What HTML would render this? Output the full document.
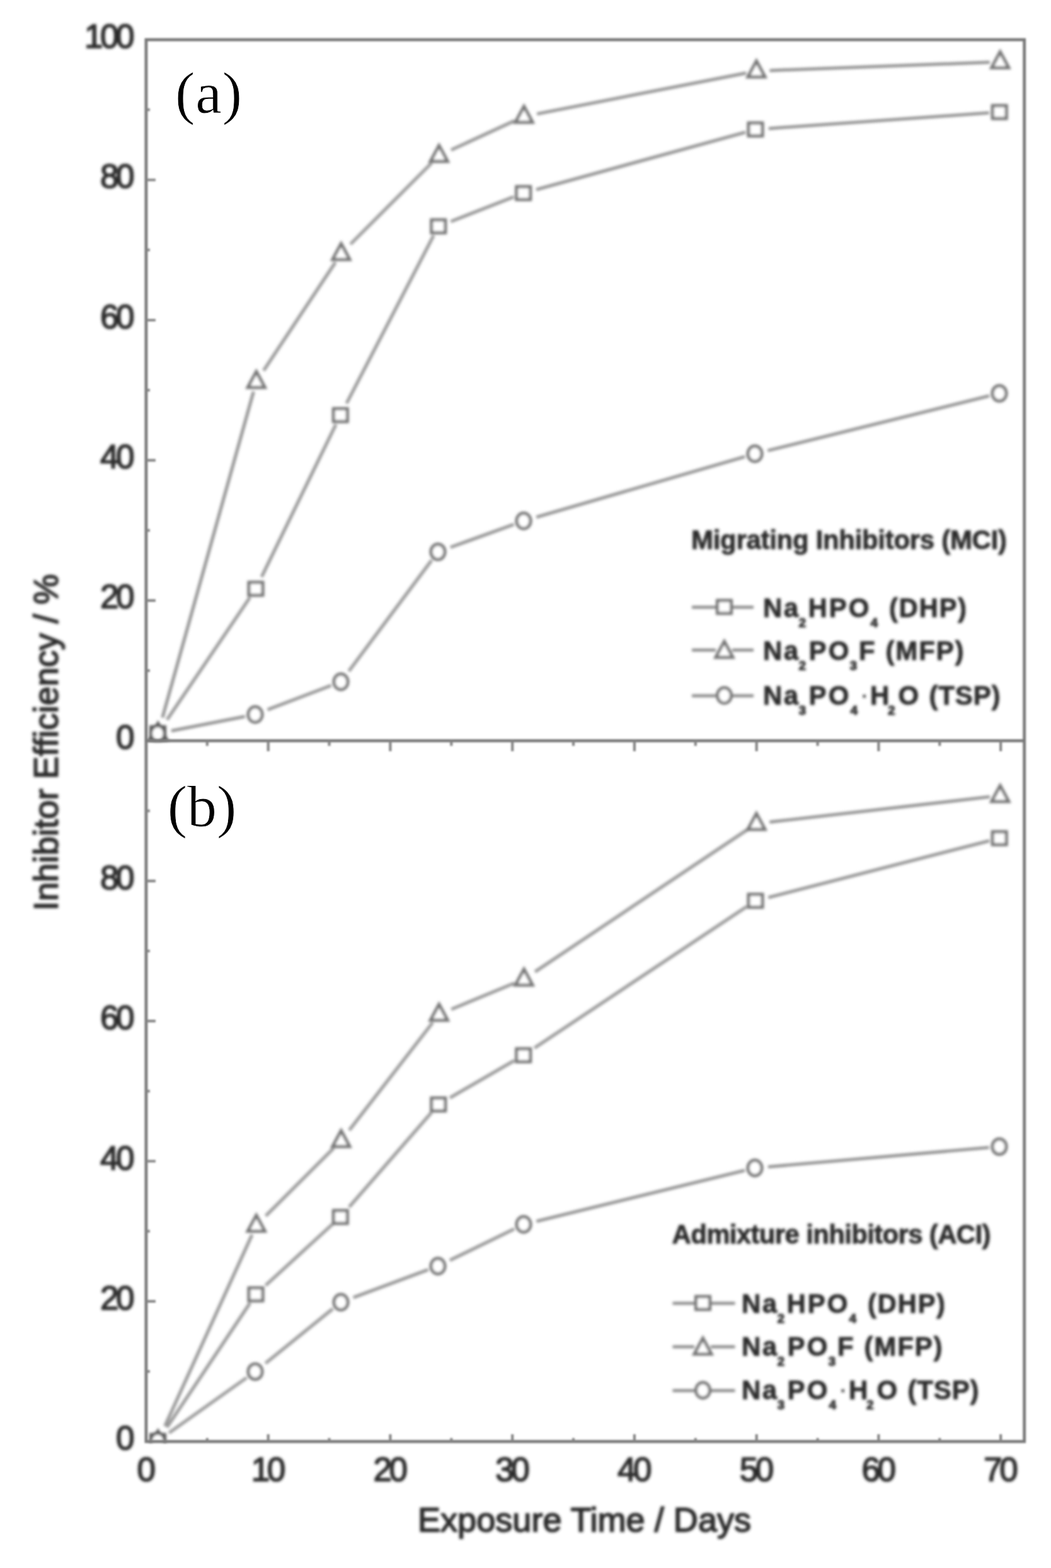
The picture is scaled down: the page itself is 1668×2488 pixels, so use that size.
<!DOCTYPE html>
<html lang="en"><head><meta charset="utf-8"><title>Inhibitor Efficiency vs Exposure Time</title>
<style>
html,body{margin:0;padding:0;background:#fff;overflow:hidden}
svg{display:block}
text{font-family:"Liberation Sans",sans-serif}
.tick{font-size:53px;letter-spacing:-4.5px;fill:#2b2b2b;stroke:#2b2b2b;stroke-width:1.7px;stroke-linejoin:round}
.ttl{font-size:54px;fill:#2b2b2b;stroke:#2b2b2b;stroke-width:1.8px;stroke-linejoin:round}
.leg{font-size:42px;font-weight:bold;fill:#2c2c2c;stroke:#2c2c2c;stroke-width:0.8px;stroke-linejoin:round}
.dot{font-size:30px;font-weight:bold;fill:#2c2c2c}
.sub{font-size:21px;font-weight:bold;fill:#2c2c2c;stroke:#2c2c2c;stroke-width:1px;stroke-linejoin:round}
.pan{font-family:"Liberation Serif",serif;font-size:94px;fill:#000;stroke:#fff;stroke-width:0.8px}
.ln{fill:none;stroke:#989898;stroke-width:5.2}
.mk{fill:#fff;stroke:#757575;stroke-width:5.0;stroke-linejoin:miter}
.mk .ln{fill:none;stroke:#989898;stroke-width:5.2}
.fr{fill:none;stroke:#787878;stroke-width:4.8}
</style></head>
<body>
<svg width="1668" height="2488" viewBox="0 0 1668 2488">
<defs>
<filter id="soft" x="-2%" y="-2%" width="104%" height="104%"><feGaussianBlur stdDeviation="1.9"/></filter>
<filter id="soft3" x="-2%" y="-2%" width="104%" height="104%"><feGaussianBlur stdDeviation="1.5"/></filter>
<filter id="soft2" x="-5%" y="-5%" width="110%" height="110%"><feGaussianBlur stdDeviation="0.6"/></filter>
<clipPath id="cpa"><rect x="231.9" y="63.0" width="1393.8" height="1113.9"/></clipPath>
<clipPath id="cpb"><rect x="231.9" y="1175.4" width="1393.8" height="1113.4"/></clipPath>
</defs>
<rect x="0" y="0" width="1668" height="2488" fill="#fff"/>
<g filter="url(#soft)">
<g clip-path="url(#cpa)">
<g class="mk"><path class="ln" style="stroke:#9a9a9a;stroke-width:5.2" d="M265.1 1142.0L396.7 947.9"/>
<path class="ln" style="stroke:#979797;stroke-width:5.1" d="M415.2 915.3L533.1 673.5"/>
<path class="ln" style="stroke:#989898;stroke-width:5.1" d="M550.0 640.1L688.2 373.7"/>
<path class="ln" style="stroke:#959595;stroke-width:5.0" d="M715.4 351.5L815.3 312.4"/>
<path class="ln" style="stroke:#919191;stroke-width:4.9" d="M851.0 300.8L1183.1 209.8"/>
<path class="ln" style="stroke:#898989;stroke-width:4.5" d="M1219.9 203.9L1569.7 179.0"/>
<rect x="239.5" y="1153.3" width="22.0" height="20.4" style="stroke:#5c5c5c"/>
<rect x="395.0" y="924.0" width="22.0" height="20.4"/>
<rect x="529.3" y="648.5" width="22.0" height="20.4"/>
<rect x="684.8" y="348.9" width="22.0" height="20.4"/>
<rect x="819.7" y="296.2" width="22.0" height="20.4"/>
<rect x="1188.0" y="195.2" width="22.0" height="20.4"/>
<rect x="1575.2" y="167.6" width="22.0" height="20.4"/></g>
<g class="mk"><path class="ln" style="stroke:#919191;stroke-width:4.9" d="M257.8 1138.7L402.4 621.4"/>
<path class="ln" style="stroke:#9a9a9a;stroke-width:5.2" d="M418.4 588.0L532.3 416.2"/>
<path class="ln" style="stroke:#9c9c9c;stroke-width:5.3" d="M556.2 387.5L685.1 258.5"/>
<path class="ln" style="stroke:#979797;stroke-width:5.1" d="M715.9 238.0L816.6 191.6"/>
<path class="ln" style="stroke:#8e8e8e;stroke-width:4.7" d="M852.2 180.7L1184.3 115.9"/>
<path class="ln" style="stroke:#888888;stroke-width:4.5" d="M1221.5 111.9L1570.8 98.8"/>
<path d="M250.8 1148.0L264.3 1173.0L237.3 1173.0Z" style="stroke:#5c5c5c"/>
<path d="M406.8 589.8L420.3 614.8L393.3 614.8Z"/>
<path d="M541.4 386.7L554.9 411.7L527.9 411.7Z"/>
<path d="M696.8 231.1L710.3 256.1L683.3 256.1Z"/>
<path d="M831.6 169.0L845.1 194.0L818.1 194.0Z"/>
<path d="M1200.5 97.0L1214.0 122.0L1187.0 122.0Z"/>
<path d="M1587.3 82.5L1600.8 107.5L1573.8 107.5Z"/></g>
<g class="mk"><path class="ln" style="stroke:#8e8e8e;stroke-width:4.7" d="M271.9 1159.6L388.8 1136.9"/>
<path class="ln" style="stroke:#959595;stroke-width:5.0" d="M424.6 1126.2L525.6 1087.7"/>
<path class="ln" style="stroke:#9b9b9b;stroke-width:5.3" d="M553.6 1065.0L685.1 888.8"/>
<path class="ln" style="stroke:#949494;stroke-width:5.0" d="M714.8 868.5L815.5 832.1"/>
<path class="ln" style="stroke:#929292;stroke-width:4.9" d="M851.2 820.6L1182.2 724.6"/>
<path class="ln" style="stroke:#909090;stroke-width:4.8" d="M1218.4 715.0L1570.0 628.1"/>
<ellipse cx="250.3" cy="1163.8" rx="11" ry="12.2" style="stroke:#5c5c5c"/>
<ellipse cx="405.0" cy="1133.7" rx="11" ry="12.2"/>
<ellipse cx="541.0" cy="1081.8" rx="11" ry="12.2"/>
<ellipse cx="695.0" cy="875.6" rx="11" ry="12.2"/>
<ellipse cx="831.0" cy="826.5" rx="11" ry="12.2"/>
<ellipse cx="1198.0" cy="720.0" rx="11" ry="12.2"/>
<ellipse cx="1586.0" cy="624.1" rx="11" ry="12.2"/></g>
</g>
<g clip-path="url(#cpb)">
<g class="mk"><path class="ln" style="stroke:#9a9a9a;stroke-width:5.2" d="M264.9 2264.9L396.8 2067.5"/>
<path class="ln" style="stroke:#9c9c9c;stroke-width:5.3" d="M421.5 2039.6L528.1 1942.1"/>
<path class="ln" style="stroke:#9c9c9c;stroke-width:5.3" d="M554.1 1915.2L685.0 1764.9"/>
<path class="ln" style="stroke:#999999;stroke-width:5.2" d="M714.0 1742.0L816.4 1682.7"/>
<path class="ln" style="stroke:#9a9a9a;stroke-width:5.2" d="M848.2 1662.8L1185.3 1438.4"/>
<path class="ln" style="stroke:#919191;stroke-width:4.8" d="M1219.3 1424.1L1570.2 1334.1"/>
<rect x="239.5" y="2276.3" width="22.0" height="20.4" style="stroke:#5c5c5c"/>
<rect x="395.0" y="2043.6" width="22.0" height="20.4"/>
<rect x="529.3" y="1920.8" width="22.0" height="20.4"/>
<rect x="684.8" y="1742.3" width="22.0" height="20.4"/>
<rect x="819.7" y="1664.2" width="22.0" height="20.4"/>
<rect x="1188.0" y="1419.1" width="22.0" height="20.4"/>
<rect x="1575.2" y="1319.8" width="22.0" height="20.4"/></g>
<g class="mk"><path class="ln" style="stroke:#979797;stroke-width:5.1" d="M261.6 2263.0L400.0 1959.2"/>
<path class="ln" style="stroke:#9c9c9c;stroke-width:5.3" d="M421.7 1929.4L529.7 1821.6"/>
<path class="ln" style="stroke:#9b9b9b;stroke-width:5.3" d="M554.3 1793.4L686.7 1622.5"/>
<path class="ln" style="stroke:#969696;stroke-width:5.0" d="M716.2 1601.5L816.4 1560.0"/>
<path class="ln" style="stroke:#9a9a9a;stroke-width:5.2" d="M849.1 1542.0L1186.8 1316.0"/>
<path class="ln" style="stroke:#8b8b8b;stroke-width:4.6" d="M1221.4 1304.4L1570.9 1264.3"/>
<path d="M250.8 2271.0L264.3 2296.0L237.3 2296.0Z" style="stroke:#5c5c5c"/>
<path d="M406.8 1928.5L420.3 1953.5L393.3 1953.5Z"/>
<path d="M541.4 1794.3L554.9 1819.3L527.9 1819.3Z"/>
<path d="M696.8 1593.8L710.3 1618.8L683.3 1618.8Z"/>
<path d="M831.6 1538.0L845.1 1563.0L818.1 1563.0Z"/>
<path d="M1200.5 1291.1L1214.0 1316.1L1187.0 1316.1Z"/>
<path d="M1587.3 1246.7L1600.8 1271.7L1573.8 1271.7Z"/></g>
<g class="mk"><path class="ln" style="stroke:#9b9b9b;stroke-width:5.2" d="M268.2 2273.6L391.5 2186.0"/>
<path class="ln" style="stroke:#9c9c9c;stroke-width:5.3" d="M421.3 2163.2L528.2 2076.6"/>
<path class="ln" style="stroke:#949494;stroke-width:5.0" d="M560.7 2058.9L679.5 2014.7"/>
<path class="ln" style="stroke:#979797;stroke-width:5.1" d="M713.9 1999.8L816.2 1950.0"/>
<path class="ln" style="stroke:#909090;stroke-width:4.8" d="M851.4 1937.8L1182.0 1857.2"/>
<path class="ln" style="stroke:#8a8a8a;stroke-width:4.6" d="M1218.9 1851.5L1569.6 1820.8"/>
<ellipse cx="250.3" cy="2286.3" rx="11" ry="12.2" style="stroke:#5c5c5c"/>
<ellipse cx="405.0" cy="2176.4" rx="11" ry="12.2"/>
<ellipse cx="541.0" cy="2066.2" rx="11" ry="12.2"/>
<ellipse cx="695.0" cy="2009.0" rx="11" ry="12.2"/>
<ellipse cx="831.0" cy="1942.8" rx="11" ry="12.2"/>
<ellipse cx="1198.0" cy="1853.3" rx="11" ry="12.2"/>
<ellipse cx="1586.0" cy="1819.4" rx="11" ry="12.2"/></g>
</g>
</g><g filter="url(#soft3)"><g class="fr">
<rect x="231.9" y="63.0" width="1393.8" height="2224.3"/>
<path d="M231.9 1175.4H1625.7"/>
</g>
<path class="fr" style="stroke-width:4.2;stroke:#858585" d="M231.9 1064.2h6M231.9 952.9h15M231.9 841.7h6M231.9 730.4h15M231.9 619.2h6M231.9 508.0h15M231.9 396.7h6M231.9 285.5h15M231.9 174.2h6M231.9 2176.1h6M231.9 2064.9h15M231.9 1953.7h6M231.9 1842.5h15M231.9 1731.4h6M231.9 1620.2h15M231.9 1509.0h6M231.9 1397.8h15M231.9 1286.6h6M328.8 1175.4v8M328.8 2287.3v-5.5M425.7 1175.4v16.5M425.7 2287.3v-11.5M522.5 1175.4v8M522.5 2287.3v-5.5M619.4 1175.4v16.5M619.4 2287.3v-11.5M716.3 1175.4v8M716.3 2287.3v-5.5M813.2 1175.4v16.5M813.2 2287.3v-11.5M910.0 1175.4v8M910.0 2287.3v-5.5M1006.9 1175.4v16.5M1006.9 2287.3v-11.5M1103.8 1175.4v8M1103.8 2287.3v-5.5M1200.7 1175.4v16.5M1200.7 2287.3v-11.5M1297.6 1175.4v8M1297.6 2287.3v-5.5M1394.4 1175.4v16.5M1394.4 2287.3v-11.5M1491.3 1175.4v8M1491.3 2287.3v-5.5M1588.2 1175.4v16.5M1588.2 2287.3v-11.5"/>
</g><g filter="url(#soft)">
<text class="tick" text-anchor="end" x="209" y="75.5">100</text>
<text class="tick" text-anchor="end" x="209" y="298.0">80</text>
<text class="tick" text-anchor="end" x="209" y="520.5">60</text>
<text class="tick" text-anchor="end" x="209" y="742.9">40</text>
<text class="tick" text-anchor="end" x="209" y="965.4">20</text>
<text class="tick" text-anchor="end" x="209" y="1187.9">0</text>
<text class="tick" text-anchor="end" x="209" y="1410.8">80</text>
<text class="tick" text-anchor="end" x="209" y="1633.2">60</text>
<text class="tick" text-anchor="end" x="209" y="1855.5">40</text>
<text class="tick" text-anchor="end" x="209" y="2077.9">20</text>
<text class="tick" text-anchor="end" x="209" y="2300.3">0</text>
<text class="tick" text-anchor="middle" x="229.9" y="2350">0</text>
<text class="tick" text-anchor="middle" x="423.7" y="2350">10</text>
<text class="tick" text-anchor="middle" x="617.4" y="2350">20</text>
<text class="tick" text-anchor="middle" x="811.2" y="2350">30</text>
<text class="tick" text-anchor="middle" x="1004.9" y="2350">40</text>
<text class="tick" text-anchor="middle" x="1198.7" y="2350">50</text>
<text class="tick" text-anchor="middle" x="1392.4" y="2350">60</text>
<text class="tick" text-anchor="middle" x="1586.2" y="2350">70</text>
<text class="ttl" x="663" y="2429.5" textLength="529" lengthAdjust="spacing">Exposure Time / Days</text>
<text class="ttl" transform="translate(91.5 1445) rotate(-90)" textLength="534" lengthAdjust="spacing">Inhibitor Efficiency / %</text>
<text class="leg" x="1097" y="870.5" textLength="501" lengthAdjust="spacing">Migrating Inhibitors (MCI)</text>
<path class="ln" style="stroke:#858585;stroke-width:4.4" d="M1098 963.5H1136M1162 963.5H1196"/>
<g class="mk"><rect x="1138.5" y="952.8" width="22.0" height="20.4"/></g>
<path class="ln" style="stroke:#858585;stroke-width:4.4" d="M1098 1031.5H1136M1162 1031.5H1196"/>
<g class="mk"><path d="M1149.5 1018.0L1163.0 1043.0L1136.0 1043.0Z"/></g>
<path class="ln" style="stroke:#858585;stroke-width:4.4" d="M1098 1104H1136M1162 1104H1196"/>
<g class="mk"><ellipse cx="1149.5" cy="1103.5" rx="11" ry="12.2"/></g>
<text><tspan class="leg" x="1211.0" y="978.5" textLength="56.0" lengthAdjust="spacing">Na</tspan><tspan class="sub" x="1267.5" y="994.5">2</tspan><tspan class="leg" x="1282.5" y="978.5" textLength="97.0" lengthAdjust="spacing">HPO</tspan><tspan class="sub" x="1381.5" y="994.5">4</tspan><tspan class="leg" x="1411.0" y="978.5" textLength="123.0" lengthAdjust="spacing">(DHP)</tspan></text>
<text><tspan class="leg" x="1211.0" y="1046.5" textLength="56.0" lengthAdjust="spacing">Na</tspan><tspan class="sub" x="1267.5" y="1062.5">2</tspan><tspan class="leg" x="1283.5" y="1046.5" textLength="64.0" lengthAdjust="spacing">PO</tspan><tspan class="sub" x="1348.5" y="1062.5">3</tspan><tspan class="leg" x="1363.0" y="1046.5">F</tspan><tspan class="leg" x="1405.5" y="1046.5" textLength="124.0" lengthAdjust="spacing">(MFP)</tspan></text>
<text><tspan class="leg" x="1211.0" y="1117.5" textLength="56.0" lengthAdjust="spacing">Na</tspan><tspan class="sub" x="1267.5" y="1133.5">3</tspan><tspan class="leg" x="1283.5" y="1117.5" textLength="64.0" lengthAdjust="spacing">PO</tspan><tspan class="sub" x="1349.5" y="1133.5">4</tspan><tspan class="dot" x="1367.5" y="1114.5">·</tspan><tspan class="leg" x="1381.0" y="1117.5">H</tspan><tspan class="sub" x="1409.0" y="1133.5">2</tspan><tspan class="leg" x="1425.5" y="1117.5">O</tspan><tspan class="leg" x="1474.5" y="1117.5" textLength="113.0" lengthAdjust="spacing">(TSP)</tspan></text>
<text class="leg" x="1066.5" y="1973" textLength="506" lengthAdjust="spacing">Admixture inhibitors (ACI)</text>
<path class="ln" style="stroke:#858585;stroke-width:4.4" d="M1067.5 2068H1102M1128 2068H1166.5"/>
<g class="mk"><rect x="1104.5" y="2057.3" width="22.0" height="20.4"/></g>
<path class="ln" style="stroke:#858585;stroke-width:4.4" d="M1067.5 2137H1102M1128 2137H1166.5"/>
<g class="mk"><path d="M1115.5 2123.5L1129.0 2148.5L1102.0 2148.5Z"/></g>
<path class="ln" style="stroke:#858585;stroke-width:4.4" d="M1067.5 2206.5H1102M1128 2206.5H1166.5"/>
<g class="mk"><ellipse cx="1115.5" cy="2206.0" rx="11" ry="12.2"/></g>
<text><tspan class="leg" x="1177.0" y="2082.5" textLength="56.0" lengthAdjust="spacing">Na</tspan><tspan class="sub" x="1233.5" y="2098.5">2</tspan><tspan class="leg" x="1248.5" y="2082.5" textLength="97.0" lengthAdjust="spacing">HPO</tspan><tspan class="sub" x="1347.5" y="2098.5">4</tspan><tspan class="leg" x="1377.0" y="2082.5" textLength="123.0" lengthAdjust="spacing">(DHP)</tspan></text>
<text><tspan class="leg" x="1177.0" y="2151.0" textLength="56.0" lengthAdjust="spacing">Na</tspan><tspan class="sub" x="1233.5" y="2167.0">2</tspan><tspan class="leg" x="1249.5" y="2151.0" textLength="64.0" lengthAdjust="spacing">PO</tspan><tspan class="sub" x="1314.5" y="2167.0">3</tspan><tspan class="leg" x="1329.0" y="2151.0">F</tspan><tspan class="leg" x="1371.5" y="2151.0" textLength="124.0" lengthAdjust="spacing">(MFP)</tspan></text>
<text><tspan class="leg" x="1177.0" y="2219.5" textLength="56.0" lengthAdjust="spacing">Na</tspan><tspan class="sub" x="1233.5" y="2235.5">3</tspan><tspan class="leg" x="1249.5" y="2219.5" textLength="64.0" lengthAdjust="spacing">PO</tspan><tspan class="sub" x="1315.5" y="2235.5">4</tspan><tspan class="dot" x="1333.5" y="2216.5">·</tspan><tspan class="leg" x="1347.0" y="2219.5">H</tspan><tspan class="sub" x="1375.0" y="2235.5">2</tspan><tspan class="leg" x="1391.5" y="2219.5">O</tspan><tspan class="leg" x="1440.5" y="2219.5" textLength="113.0" lengthAdjust="spacing">(TSP)</tspan></text>
</g>
<g filter="url(#soft2)">
<text class="pan" x="278" y="178.5" textLength="106" lengthAdjust="spacing">(a)</text>
<text class="pan" x="265.7" y="1310.5">(b)</text>
</g>
</svg>
</body></html>
